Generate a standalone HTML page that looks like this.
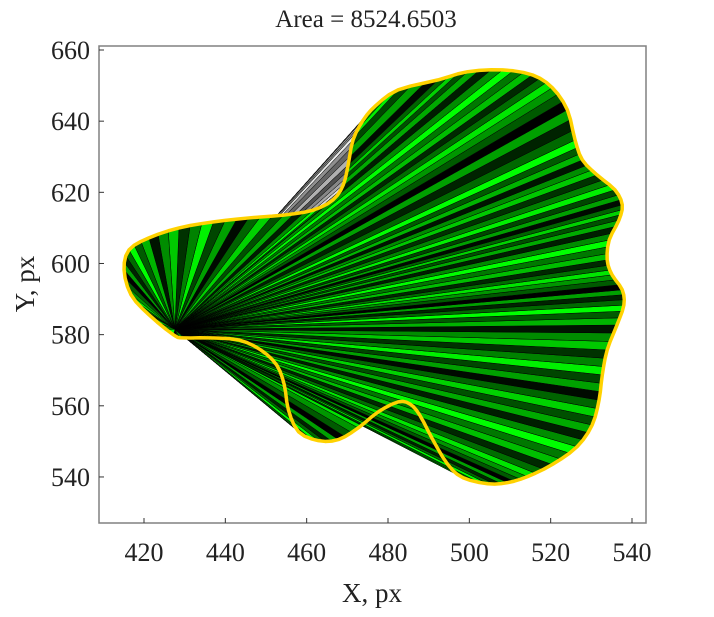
<!DOCTYPE html>
<html><head><meta charset="utf-8"><style>
body{margin:0;background:#fff;}
svg text{font-family:"Liberation Serif",serif;fill:#222;}
</style></head><body>
<svg id="chart" width="714" height="612" xmlns="http://www.w3.org/2000/svg">
<text x="366" y="27" font-size="25" text-anchor="middle">Area = 8524.6503</text>
<g id="plot"></g>
<g id="axes"></g>
<text x="372" y="602" font-size="27" text-anchor="middle">X, px</text>
<text x="0" y="0" font-size="27" text-anchor="middle" transform="translate(34,284) rotate(-90)">Y, px</text>
</svg>
<script>
const xTicks=[420,440,460,480,500,520,540];
const yTicks=[540,560,580,600,620,640,660];
const apexX=427.6, apexY=581.5;
const bx=[427.3,429.8,435.9,443.3,448.7,452.6,454.5,455.5,458.0,462.9,467.8,472.7,477.6,482.5,485.4,487.8,491.0,494.7,498.4,504.5,509.4,514.3,520.4,526.5,530.2,531.9,532.7,533.9,536.3,538.0,537.6,535.1,533.9,534.4,536.8,537.6,535.8,531.4,527.8,526.0,524.1,520.4,515.5,508.2,499.6,492.3,482.5,477.1,473.9,471.4,470.2,469.0,466.5,461.6,454.3,445.7,437.1,428.6,421.2,416.3,415.1,416.8,421.2];
const by=[579.9,579.1,579.1,578.5,575.7,571.5,565.9,558.9,552.7,550.2,550.5,553.8,558.3,561.1,560.5,557.4,550.5,543.5,539.8,538.1,538.4,540.1,543.5,548.5,554.6,561.6,568.7,575.7,582.7,588.3,592.6,596.8,601.0,606.6,612.2,616.5,620.7,624.9,629.1,634.7,643.2,649.4,653.0,654.4,653.9,651.6,648.8,644.5,640.3,634.7,627.7,622.1,617.9,615.0,613.6,612.8,611.7,610.0,607.2,603.8,598.2,591.2,585.6];
const shades=[0,90,150,230,110,40,190,120,255,140,30,170,80,210,100,10,160,70,240,130,50,200,140,20,180,90,255,105,35,160];
const L=99,R=646,T=46,B=523;
const x0=420,x1=540,px0=144,px1=632;
const sx=v=>px0+(v-x0)*(px1-px0)/(x1-x0);
const sy=v=>50+(660-v)*3.558;
const NS="http://www.w3.org/2000/svg";
const plot=document.getElementById('plot'),axes=document.getElementById('axes');
const n=bx.length,pts=[];
for(let i=0;i<n;i++){
 const p0=[bx[(i-1+n)%n],by[(i-1+n)%n]],p1=[bx[i],by[i]],p2=[bx[(i+1)%n],by[(i+1)%n]],p3=[bx[(i+2)%n],by[(i+2)%n]];
 for(let k=0;k<3;k++){const t=k/3,t2=t*t,t3=t2*t;
  const f=j=>0.5*((2*p1[j])+(-p0[j]+p2[j])*t+(2*p0[j]-5*p1[j]+4*p2[j]-p3[j])*t2+(-p0[j]+3*p1[j]-3*p2[j]+p3[j])*t3);
  pts.push([sx(f(0)),sy(f(1))]);}
}
const ax=sx(apexX),ay=sy(apexY);
const clip=document.createElementNS(NS,'clipPath');clip.setAttribute('id','bx');
const cr=document.createElementNS(NS,'rect');cr.setAttribute('x',L);cr.setAttribute('y',T);cr.setAttribute('width',R-L);cr.setAttribute('height',B-T);
clip.appendChild(cr);plot.appendChild(clip);plot.setAttribute('clip-path','url(#bx)');
for(let i=0;i<pts.length;i++){
 const a=pts[i],b=pts[(i+1)%pts.length];
 const area=(a[0]-ax)*(b[1]-ay)-(b[0]-ax)*(a[1]-ay);
 const s=shades[i%shades.length];
 const tri=document.createElementNS(NS,'polygon');
 
 
 tri.setAttribute('points',`${ax},${ay} ${a[0]},${a[1]} ${b[0]},${b[1]}`);
 const g=Math.round(s*0.6+80);
 tri.setAttribute('fill',area>0?`rgb(${g},${g},${g})`:`rgb(0,${s},0)`);
 tri.setAttribute('stroke','#000');tri.setAttribute('stroke-width','0.5');
 plot.appendChild(tri);
}
const path=document.createElementNS(NS,'polygon');


path.setAttribute('points',pts.map(p=>p.join(',')).join(' '));
path.setAttribute('fill','none');path.setAttribute('stroke','#ffd200');path.setAttribute('stroke-width','3.5');path.setAttribute('stroke-linejoin','round');
plot.appendChild(path);
const box=document.createElementNS(NS,'rect');


box.setAttribute('x',L);box.setAttribute('y',T);box.setAttribute('width',R-L);box.setAttribute('height',B-T);
box.setAttribute('fill','none');box.setAttribute('stroke','#808080');box.setAttribute('stroke-width','1.5');
axes.appendChild(box);
xTicks.forEach(v=>{const X=sx(v);
 const t=document.createElementNS(NS,'line');
 
 
 t.setAttribute('x1',X);t.setAttribute('x2',X);t.setAttribute('y1',B);t.setAttribute('y2',B-5);t.setAttribute('stroke','#333');axes.appendChild(t);
 const tx=document.createElementNS(NS,'text');
 
 
 tx.setAttribute('x',X);tx.setAttribute('y',561);tx.setAttribute('font-size','26');tx.setAttribute('text-anchor','middle');tx.textContent=v;axes.appendChild(tx);
});
yTicks.forEach(v=>{const Y=sy(v);
 const t=document.createElementNS(NS,'line');
 
 
 t.setAttribute('x1',L);t.setAttribute('x2',L+5);t.setAttribute('y1',Y);t.setAttribute('y2',Y);t.setAttribute('stroke','#333');axes.appendChild(t);
 const tx=document.createElementNS(NS,'text');
 
 
 tx.setAttribute('x',90);tx.setAttribute('y',Y+9);tx.setAttribute('font-size','26');tx.setAttribute('text-anchor','end');tx.textContent=v;axes.appendChild(tx);
});
</script>
</body></html>
